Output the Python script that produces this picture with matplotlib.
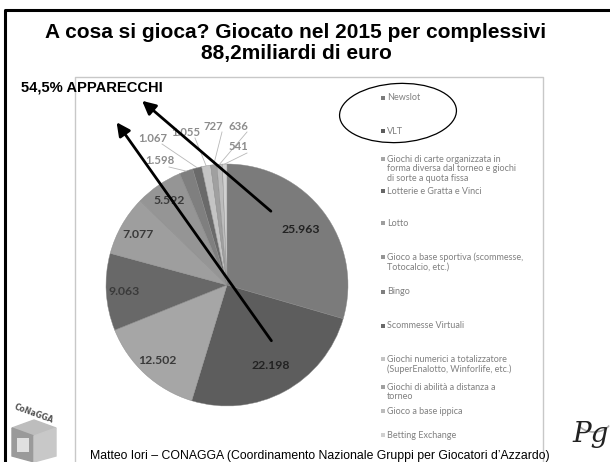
import numpy as np
import matplotlib
matplotlib.use('Agg')
import matplotlib.pyplot as plt
from matplotlib.patches import Ellipse, Rectangle, Polygon, Arc

# dati (milioni di euro giocati nel 2015)
categorie = ['Newslot', 'VLT',
             'Giochi di carte organizzata in\nforma diversa dal torneo e giochi\ndi sorte a quota fissa',
             'Lotterie e Gratta e Vinci', 'Lotto',
             'Gioco a base sportiva (scommesse,\nTotocalcio, etc.)',
             'Bingo', 'Scommesse Virtuali',
             'Giochi numerici a totalizzatore\n(SuperEnalotto, Winforlife, etc.)',
             'Giochi di abilità a distanza a\ntorneo',
             'Gioco a base ippica', 'Betting Exchange']
valori = [25963, 22198, 12502, 9063, 7077, 5592, 1598, 1067, 1055, 727, 636, 541]
etichette = ['25.963', '22.198', '12.502', '9.063', '7.077', '5.592',
             '1.598', '1.067', '1.055', '727', '636', '541']
colori = ['#7b7b7b', '#5d5d5d', '#a6a6a6', '#686868', '#9e9e9e', '#959595',
          '#7f7f7f', '#6a6a6a', '#c4c4c4', '#a0a0a0', '#bcbcbc', '#d0d0d0']

# layout (pixel)
W, H = 610, 462
cx, cy, r = 227, 285, 121
leg_y = [98, 131, 159, 191, 223, 257, 292, 326, 359, 387, 411, 435]
fuori = {6: (160, 161), 7: (153, 138), 8: (186, 132), 9: (213, 126), 10: (238, 126), 11: (238, 147)}

fig = plt.figure(figsize=(W / 100, H / 100), dpi=100)
fig.patch.set_facecolor('white')

# torta
S = 2.5 * r
axp = fig.add_axes([(cx - S / 2) / W, (H - cy - S / 2) / H, S / W, S / H])
wedges, _ = axp.pie(valori, colors=colori, startangle=90, counterclock=False,
                    radius=1, wedgeprops=dict(edgecolor='#8a8a8a', linewidth=0.3))
axp.set_xlim(-1.25, 1.25)
axp.set_ylim(-1.25, 1.25)
axp.set_aspect('equal')
axp.axis('off')

# sovrapposizione in pixel
ax = fig.add_axes([0, 0, 1, 1], zorder=5)
ax.set_xlim(0, W)
ax.set_ylim(H, 0)
ax.axis('off')
ax.patch.set_alpha(0)

# etichette dei valori
for i, w in enumerate(wedges):
    ang = np.deg2rad((w.theta1 + w.theta2) / 2)
    if i in fuori:
        lx, ly = fuori[i]
        ex, ey = cx + r * np.cos(ang), cy - r * np.sin(ang)
        ax.plot([lx + 9, ex], [ly + 6, ey], color='#b8b8b8', lw=0.6, zorder=1)
        ax.text(lx, ly, etichette[i], ha='center', va='center', fontsize=8.2,
                color='#8c8c8c', family='Lato', fontweight='bold')
    else:
        d = 0.76 if i < 2 else 0.85
        ax.text(cx + d * r * np.cos(ang), cy - d * r * np.sin(ang), etichette[i],
                ha='center', va='center', fontsize=8.8, family='Lato', fontweight='bold',
                color='#222222' if i < 2 else '#3a3a3a')

# legenda
for i, (lab, y) in enumerate(zip(categorie, leg_y)):
    ax.add_patch(Rectangle((381, y - 2), 4, 4, color=colori[i], lw=0))
    ax.text(387, y - 4.5, lab, ha='left', va='top', fontsize=6.5, family='Lato',
            color='#808080', linespacing=1.1)

# cornice dell'immagine del grafico
ax.plot([75, 75, 543, 543], [H + 2, 77, 77, H + 2], color='#c8c8c8', lw=1)

# cornice della slide
ax.plot([5, 5, W + 2], [H + 2, 10, 10], color='black', lw=2.2)

# titolo
ax.text(296, 33, 'A cosa si gioca? Giocato nel 2015 per complessivi', ha='center', va='center',
        fontsize=15, fontweight='bold', family='Liberation Sans')
ax.text(296, 53, '88,2miliardi di euro', ha='center', va='center',
        fontsize=15, fontweight='bold', family='Liberation Sans')
ax.text(21, 87, '54,5% APPARECCHI', ha='left', va='center', fontsize=10.6,
        fontweight='bold', family='Liberation Sans')

# ellisse e frecce
ax.add_patch(Ellipse((398, 113), 117, 59, angle=-3, fill=False, color='black', lw=0.9))
for x0, y0, x1, y1 in [(273, 213, 140, 99), (273, 343, 115, 120)]:
    ax.annotate('', xy=(x1, y1), xytext=(x0, y0),
                arrowprops=dict(arrowstyle='-|>,head_length=0.8,head_width=0.4',
                                color='black', lw=2))

# piè di pagina
ax.text(90, 456, "Matteo Iori \u2013 CONAGGA (Coordinamento Nazionale Gruppi per Giocatori d\u2019Azzardo)",
        ha='left', va='center', fontsize=8.8, family='Liberation Sans')

# loghi
ax.add_patch(Polygon([[12, 428], [34, 420], [56, 428], [34, 436]], color='#bdbdbd'))
ax.add_patch(Polygon([[12, 428], [34, 436], [34, 462], [12, 456]], color='#9a9a9a'))
ax.add_patch(Polygon([[34, 436], [56, 428], [56, 456], [34, 462]], color='#c8c8c8'))
ax.add_patch(Rectangle((17, 438), 12, 14, color='#e0e0e0', lw=0))
ax.text(34, 414, 'CoNaGGA', ha='center', va='center', fontsize=5.5, rotation=-20,
        color='#555555', fontweight='bold')
ax.add_patch(Arc((594, 420), 34, 24, theta1=20, theta2=160, color='#aaaaaa', lw=1.2))
ax.text(591, 434, 'Pg', ha='center', va='center', fontsize=20, family='DejaVu Serif',
        style='italic', color='#222222')

fig.savefig('out.png', dpi=100)
